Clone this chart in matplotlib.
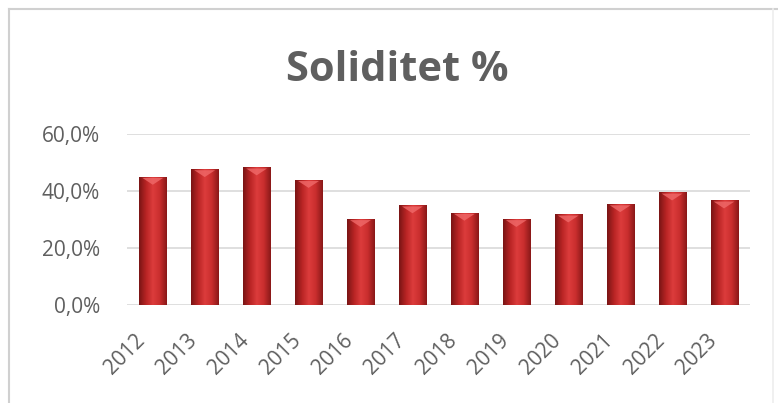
import numpy as np
import matplotlib.pyplot as plt
import matplotlib.transforms as mtransforms
from matplotlib.colors import LinearSegmentedColormap
from matplotlib.lines import Line2D

years = ['2012', '2013', '2014', '2015', '2016', '2017',
         '2018', '2019', '2020', '2021', '2022', '2023']
soliditet = [45.0, 47.7, 48.3, 43.9, 30.2, 35.0, 32.4, 30.2, 31.8, 35.4, 39.5, 36.7]
y_ticks = [0, 20, 40, 60]
y_labels = ['0,0%', '20,0%', '40,0%', '60,0%']

gray = '#5f5f5f'
plt.rcParams['font.family'] = ['Open Sans', 'DejaVu Sans']

fig = plt.figure(figsize=(7.78, 4.03), dpi=100)
ax = fig.add_axes([0.163, 0.243, 0.801, 0.4245])

x = np.arange(len(years))
bars = ax.bar(x, soliditet, width=0.52, color='#c62a2a', zorder=2)

# cylinder-like shading on each bar
shade = LinearSegmentedColormap.from_list(
    'shade', ['#7a1515', '#b82424', '#dc3c3c', '#c92e2e', '#8a1818'])
grad = np.linspace(0, 1, 64).reshape(1, -1)
for b in bars:
    x0, w, h = b.get_x(), b.get_width(), b.get_height()
    im = ax.imshow(grad, cmap=shade, aspect='auto', zorder=3,
                   extent=[x0, x0 + w, 0, h])
    im.set_clip_path(b)
    # light bevel at the top
    ax.fill([x0 + 0.06, x0 + w - 0.06, x0 + w / 2],
            [h - 0.4, h - 0.4, h - 2.8], color='#f06a6a', alpha=0.8,
            lw=0, zorder=4)

ax.set_xlim(-0.5, len(years) - 0.5)
ax.set_ylim(0, 60)
ax.set_yticks(y_ticks)
ax.set_yticklabels(y_labels)
ax.set_xticks(x)
ax.set_xticklabels(years, rotation=45, ha='right', rotation_mode='anchor')
ax.tick_params(length=0, colors=gray, labelsize=15, pad=0)

# place labels like the original chart
x_shift = mtransforms.ScaledTranslation(-0.18, -0.25, fig.dpi_scale_trans)
for lab in ax.get_xticklabels():
    lab.set_transform(lab.get_transform() + x_shift)
y_shift = mtransforms.ScaledTranslation(-0.27, 0, fig.dpi_scale_trans)
for lab in ax.get_yticklabels():
    lab.set_transform(lab.get_transform() + y_shift)

ax.grid(axis='y', color='#d9d9d9', lw=1.2, zorder=0)
for s in ax.spines.values():
    s.set_visible(False)

fig.text(0.51, 0.825, 'Soliditet %', ha='center', va='center',
         fontsize=30, fontweight='bold', color=gray)

# outer chart border (top and left visible, right very faint)
fig.add_artist(Line2D([9 / 778, 1], [1 - 9 / 403] * 2, color='#d0d0d0', lw=1.5))
fig.add_artist(Line2D([9 / 778] * 2, [0, 1 - 9 / 403], color='#d0d0d0', lw=1.5))
fig.add_artist(Line2D([773 / 778] * 2, [0, 1 - 9 / 403], color='#eeeeee', lw=1.2))

fig.savefig('out.png', dpi=100)
